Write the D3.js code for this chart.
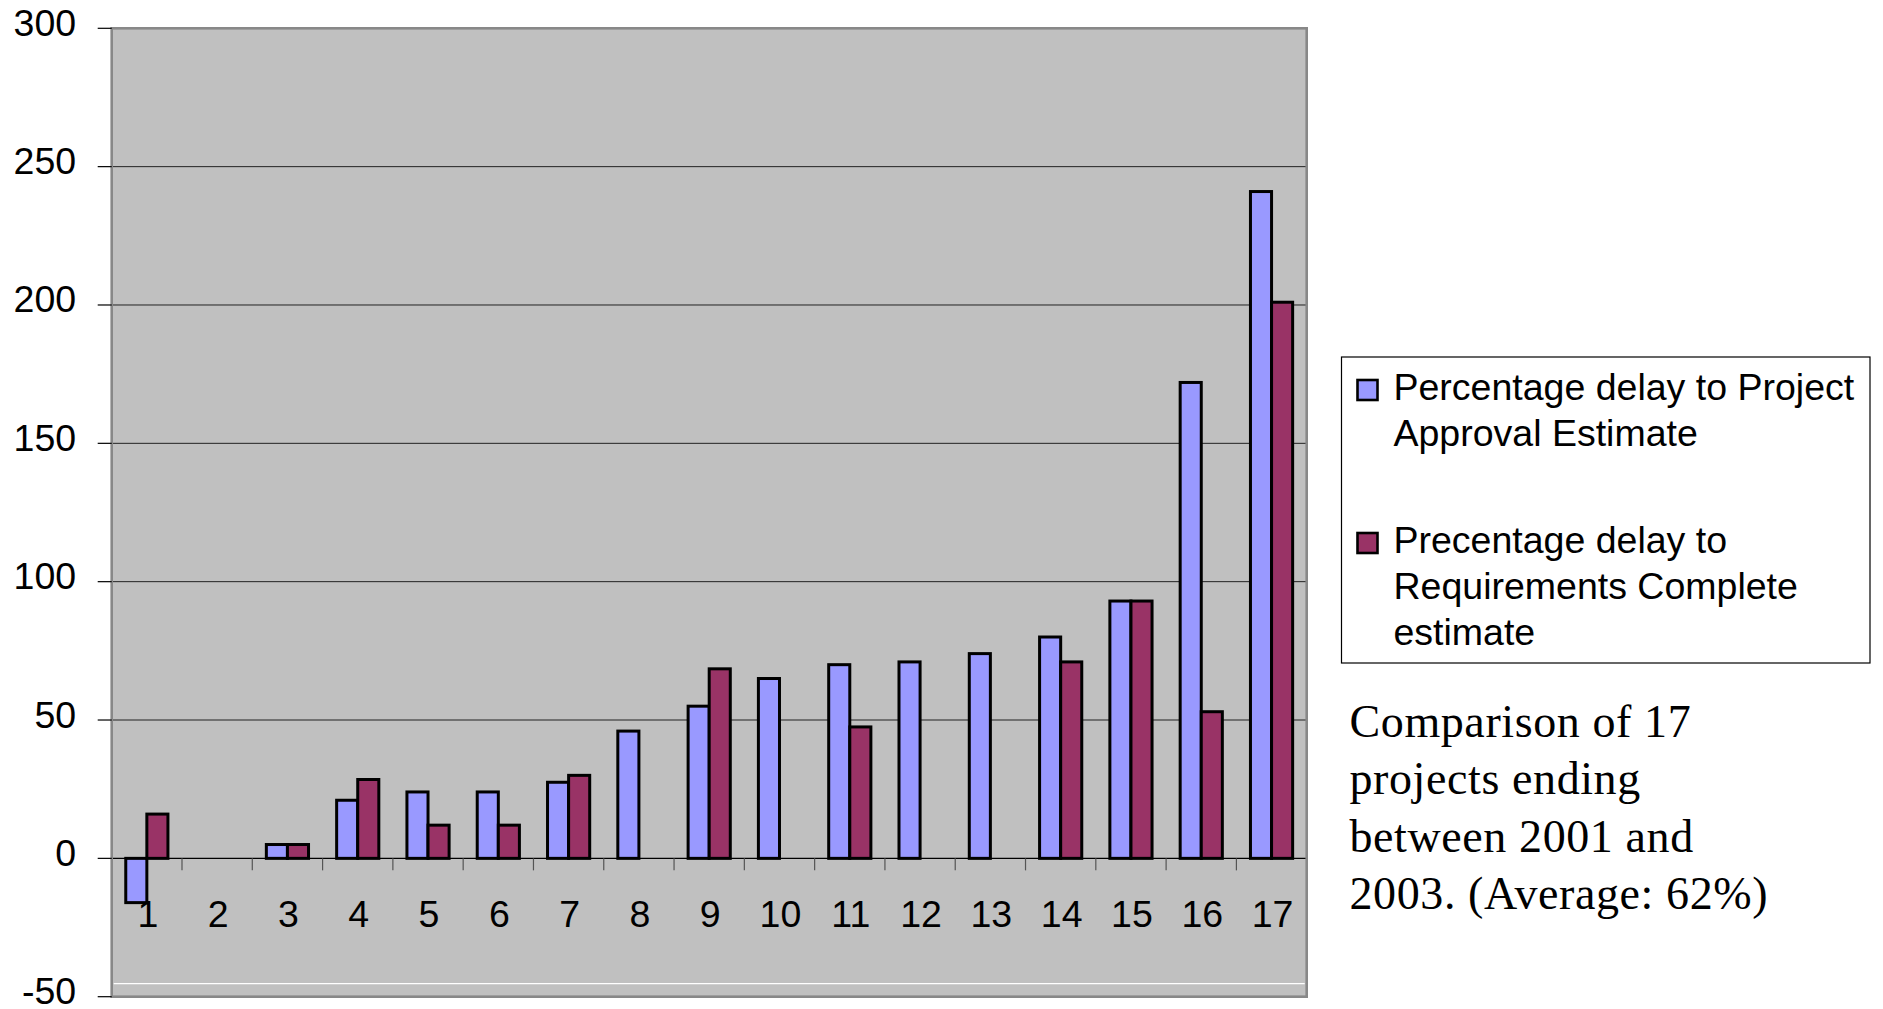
<!DOCTYPE html>
<html>
<head>
<meta charset="utf-8">
<script src="https://cdn.jsdelivr.net/npm/d3@7"></script>
<style>
  body { margin: 0; background: #fff; }
</style>
</head>
<body>
<svg id="chart" width="1883" height="1009"></svg>
<script>
// project numbers on the x axis
var categories = ["1","2","3","4","5","6","7","8","9","10","11","12","13","14","15","16","17"];
// % delay to Project Approval estimate
var approval = [-16, 0, 5, 21, 24, 24, 27.5, 46, 55, 65, 70, 71, 74, 80, 93, 172, 241];
// % delay to Requirements Complete estimate (null = no bar)
var requirements = [16, null, 5, 28.5, 12, 12, 30, null, 68.5, null, 47.5, null, null, 71, 93, 53, 201];
var seriesNames = ["Percentage delay to Project Approval Estimate",
                   "Precentage delay to Requirements Complete estimate"];
var legendLines = [["Percentage delay to Project", "Approval Estimate"],
                   ["Precentage delay to", "Requirements Complete", "estimate"]];
var yTicks = [-50, 0, 50, 100, 150, 200, 250, 300];
var caption = ["Comparison of 17", "projects ending", "between 2001 and", "2003. (Average: 62%)"];

var colors = ["#9999FF", "#993366"];
var sans = "'Liberation Sans', Arial, sans-serif";
var serif = "'Liberation Serif', 'Times New Roman', serif";

var margin = {top: 28.3, left: 111.7},
    width = 1195,
    height = 968.4;

var svg = d3.select("#chart");
svg.append("rect").attr("width", 1883).attr("height", 1009).attr("fill", "#fff");

var g = svg.append("g")
    .attr("transform", "translate(" + margin.left + "," + margin.top + ")");

var x0 = d3.scaleBand()
    .domain(categories)
    .range([0, width])
    .paddingInner(0.4)
    .paddingOuter(0.2);

var x1 = d3.scaleBand()
    .domain([0, 1])
    .range([0, x0.bandwidth()]);

var y = d3.scaleLinear()
    .domain([-50, 300])
    .range([height, 0]);

// plot area
g.append("rect")
    .attr("width", width)
    .attr("height", height)
    .attr("fill", "#C0C0C0");

// odd white line near the bottom of the plot (as in original)
g.append("line")
    .attr("x1", 2).attr("x2", width - 2)
    .attr("y1", height - 13).attr("y2", height - 13)
    .attr("stroke", "#fff").attr("stroke-width", 1.2);

// gridlines
g.append("g")
    .selectAll("line")
    .data(yTicks.filter(function(d) { return d != 0 && d != -50 && d != 300; }))
    .enter().append("line")
    .attr("x1", 0).attr("x2", width)
    .attr("y1", function(d) { return y(d); })
    .attr("y2", function(d) { return y(d); })
    .attr("stroke", "#222")
    .attr("stroke-width", 1);

// bars
var rows = categories.map(function(c, i) {
    return {cat: c, vals: [approval[i], requirements[i]]};
});

var groups = g.append("g")
    .selectAll("g")
    .data(rows)
    .enter().append("g")
    .attr("transform", function(d) { return "translate(" + x0(d.cat) + ",0)"; });

groups.selectAll("rect")
    .data(function(d) {
        return d.vals.map(function(v, k) { return {k: k, v: v}; })
            .filter(function(e) { return e.v != null && e.v != 0; });
    })
    .enter().append("rect")
    .attr("x", function(d) { return x1(d.k); })
    .attr("y", function(d) { return y(Math.max(0, d.v)); })
    .attr("width", x1.bandwidth())
    .attr("height", function(d) { return Math.abs(y(d.v) - y(0)); })
    .attr("fill", function(d) { return colors[d.k]; })
    .attr("stroke", "#000")
    .attr("stroke-width", 3);

// category axis at zero
var xAxis = g.append("g").attr("transform", "translate(0," + y(0) + ")");
xAxis.append("line")
    .attr("x1", 0).attr("x2", width)
    .attr("stroke", "#000").attr("stroke-width", 1.2);
xAxis.selectAll("line.tick")
    .data(categories.slice(1))
    .enter().append("line")
    .attr("class", "tick")
    .attr("x1", function(d) { return x0(d) - x0.step() * 0.2; })
    .attr("x2", function(d) { return x0(d) - x0.step() * 0.2; })
    .attr("y1", 0).attr("y2", 12)
    .attr("stroke", "#555").attr("stroke-width", 1.2);
xAxis.selectAll("text")
    .data(categories)
    .enter().append("text")
    .attr("x", function(d) { return x0(d) + x0.bandwidth() / 2 + 1; })
    .attr("y", 68.3)
    .attr("text-anchor", "middle")
    .style("font-family", sans)
    .style("font-size", "37.5px")
    .attr("fill", "#000")
    .text(function(d) { return d; });

// plot border
g.append("rect")
    .attr("width", width)
    .attr("height", height)
    .attr("fill", "none")
    .attr("stroke", "#888")
    .attr("stroke-width", 2.6);

// value axis
var yAxis = g.append("g");
yAxis.selectAll("line")
    .data(yTicks)
    .enter().append("line")
    .attr("x1", -14).attr("x2", 0)
    .attr("y1", function(d) { return y(d); })
    .attr("y2", function(d) { return y(d); })
    .attr("stroke", "#000").attr("stroke-width", 1.2);
yAxis.selectAll("text")
    .data(yTicks)
    .enter().append("text")
    .attr("x", -35.5)
    .attr("y", function(d) { return y(d) + 7.5; })
    .attr("text-anchor", "end")
    .style("font-family", sans)
    .style("font-size", "37.5px")
    .attr("fill", "#000")
    .text(function(d) { return d; });

// legend
var legend = svg.append("g").attr("transform", "translate(1341.5,357)");
legend.append("rect")
    .attr("width", 528.5)
    .attr("height", 306)
    .attr("fill", "#fff")
    .attr("stroke", "#000")
    .attr("stroke-width", 1.2);

var items = legend.selectAll("g.item")
    .data(seriesNames)
    .enter().append("g")
    .attr("class", "item")
    .attr("transform", function(d, i) { return "translate(0," + (i * 153) + ")"; });

items.append("rect")
    .attr("x", 16).attr("y", 23)
    .attr("width", 20).attr("height", 20)
    .attr("fill", function(d, i) { return colors[i]; })
    .attr("stroke", "#000")
    .attr("stroke-width", 2.6);

items.each(function(d, i) {
    d3.select(this).selectAll("text")
        .data(legendLines[i])
        .enter().append("text")
        .attr("x", 52)
        .attr("y", function(t, j) { return 43 + j * 46; })
        .style("font-family", sans)
        .style("font-size", "37.5px")
        .attr("fill", "#000")
        .text(function(t) { return t; });
});

// caption
svg.append("g")
    .selectAll("text")
    .data(caption)
    .enter().append("text")
    .attr("x", 1349.5)
    .attr("y", function(d, i) { return 736.5 + i * 57.5; })
    .style("font-family", serif)
    .style("font-size", "46px")
    .style("letter-spacing", "0.6px")
    .attr("fill", "#000")
    .text(function(d) { return d; });
</script>
</body>
</html>
